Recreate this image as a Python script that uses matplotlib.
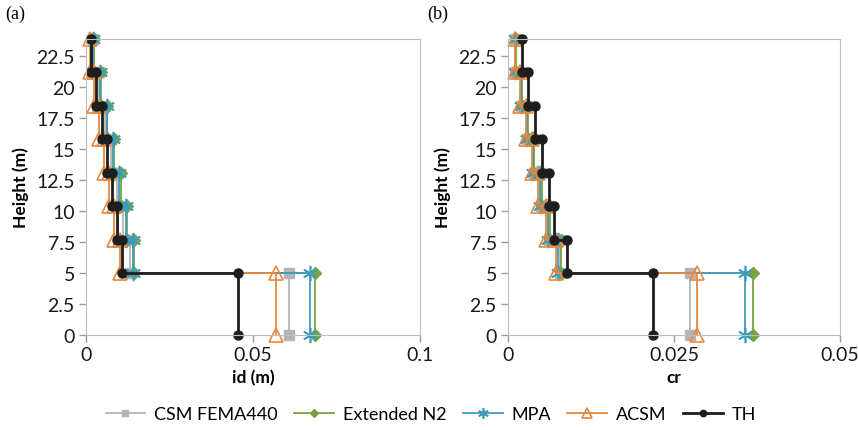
import matplotlib.pyplot as plt

heights = [0, 5, 7.7, 10.4, 13.1, 15.8, 18.5, 21.2, 23.9]

# inter-storey drift id (m), storey 1 .. 8
id_csm = [0.0608, 0.0132, 0.0112, 0.0092, 0.0074, 0.0056, 0.0038, 0.0020]
id_n2 = [0.0686, 0.0145, 0.0124, 0.0104, 0.0084, 0.0064, 0.0045, 0.0023]
id_mpa = [0.0670, 0.0142, 0.0120, 0.0100, 0.0080, 0.0062, 0.0043, 0.0022]
id_acsm = [0.0570, 0.0102, 0.0085, 0.0070, 0.0055, 0.0040, 0.0025, 0.0012]
id_th = [0.0455, 0.0108, 0.0093, 0.0078, 0.0063, 0.0047, 0.0031, 0.0015]

# cr, storey 1 .. 8
cr_csm = [0.0274, 0.0078, 0.0062, 0.0050, 0.0039, 0.0029, 0.0020, 0.0011]
cr_n2 = [0.0369, 0.0080, 0.0064, 0.0051, 0.0040, 0.0030, 0.0021, 0.0012]
cr_mpa = [0.0357, 0.0076, 0.0060, 0.0048, 0.0038, 0.0028, 0.0019, 0.0010]
cr_acsm = [0.0284, 0.0073, 0.0058, 0.0046, 0.0036, 0.0027, 0.0018, 0.0010]
cr_th = [0.0218, 0.0089, 0.0070, 0.0062, 0.0051, 0.0041, 0.0030, 0.0021]

labels = ['CSM FEMA440', 'Extended N2', 'MPA', 'ACSM', 'TH']


def steps(vals):
    xs, ys = [], []
    for i, v in enumerate(vals):
        xs += [v, v]
        ys += [heights[i], heights[i + 1]]
    return xs, ys


styles = [
    dict(color='#b4b4b4', marker='s', ms=7, mfc='#b4b4b4', mec='#b4b4b4', lw=1.3),
    dict(color='#7aa33f', marker='D', ms=6, mfc='#7aa33f', mec='#7aa33f', lw=1.3),
    dict(color='#3b9cc0', marker=(6, 2, 0), ms=11, mew=1.2, lw=1.3),
    dict(color='#e8883c', marker='^', ms=10, mfc='none', mec='#e8883c', mew=1.2, lw=1.3),
    dict(color='#1e1e1e', marker='o', ms=6.5, mfc='#1e1e1e', mec='#1e1e1e', lw=2),
]

plt.rcParams['font.family'] = ['Lato', 'DejaVu Sans']
fig = plt.figure(figsize=(8.58, 4.31), dpi=100)
ax1 = fig.add_axes([0.1002, 0.2204, 0.389, 0.687])
ax2 = fig.add_axes([0.592, 0.2204, 0.387, 0.687])

panels = [
    (ax1, [id_csm, id_n2, id_mpa, id_acsm, id_th], 0.1, [0, 0.05, 0.1], ['0', '0.05', '0.1'], 'id (m)'),
    (ax2, [cr_csm, cr_n2, cr_mpa, cr_acsm, cr_th], 0.05, [0, 0.025, 0.05], ['0', '0.025', '0.05'], 'cr'),
]

for ax, series, xmax, xt, xtl, xl in panels:
    for vals, lab, st in zip(series, labels, styles):
        xs, ys = steps(vals)
        ax.plot(xs, ys, label=lab, clip_on=False, **st)
    ax.set_xlim(0, xmax)
    ax.set_ylim(0, 23.9)
    ax.set_xticks(xt)
    ax.set_xticklabels(xtl)
    ax.set_yticks([0, 2.5, 5, 7.5, 10, 12.5, 15, 17.5, 20, 22.5])
    ax.set_yticklabels(['0', '2.5', '5', '7.5', '10', '12.5', '15', '17.5', '20', '22.5'])
    for s in ax.spines.values():
        s.set_color('#bdbdbd')
    ax.tick_params(colors='#9a9a9a', labelcolor='#1a1a1a', labelsize=14, length=5, width=1, pad=3)
    ax.set_xlabel(xl, fontsize=12.5, fontweight='bold', labelpad=4)
    ax.set_ylabel('Height (m)', fontsize=12.5, fontweight='bold', labelpad=5)

fig.text(0.006, 0.955, '(a)', fontsize=13, family='Liberation Serif')
fig.text(0.498, 0.955, '(b)', fontsize=13, family='Liberation Serif')

h, l = ax1.get_legend_handles_labels()
fig.legend(h, l, loc='center', bbox_to_anchor=(0.502, 0.036), ncol=5, frameon=False,
           fontsize=13, handlelength=2.2, columnspacing=0.9, handletextpad=0.5,
           markerscale=0.7)

fig.savefig('out.png', dpi=100)
